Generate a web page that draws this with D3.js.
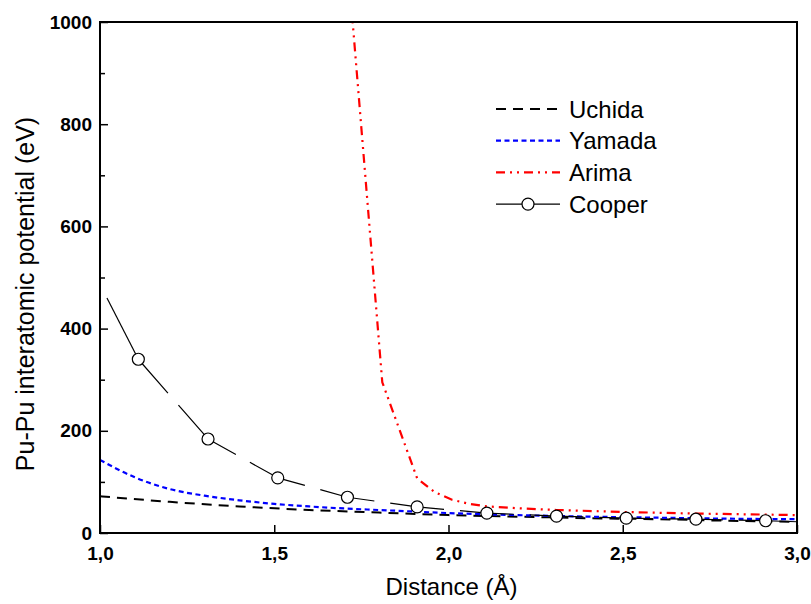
<!DOCTYPE html>
<html>
<head>
<meta charset="utf-8">
<script src="https://cdn.jsdelivr.net/npm/d3@7"></script>
<style>
  body { margin: 0; background: #fff; }
  text { font-family: Arial, "Liberation Sans", sans-serif; }
</style>
</head>
<body>
<div id="chart"></div>
<script>
// series values
const uchidaX = [1.0, 1.2, 1.4, 1.6, 1.8, 2.0, 2.2, 2.4, 2.6, 2.8, 3.0];
const uchidaY = [72, 61, 52, 45, 40, 35, 32, 29, 27, 24, 22];

const yamadaX = [1.0, 1.1, 1.2, 1.3, 1.4, 1.5, 1.6, 1.7, 1.8, 1.9, 2.0, 2.2, 2.4, 2.6, 2.8, 3.0];
const yamadaY = [143, 109, 86, 73, 64, 57, 52, 48, 45, 42, 39, 35, 32, 30, 28, 27];

const arimaX = [1.71, 1.81, 1.91, 1.96, 2.01, 2.06, 2.11, 2.21, 2.31, 2.51, 2.71, 2.91, 3.0];
const arimaY = [1124, 295, 107, 80, 65, 57, 52, 48, 45, 41, 38, 36, 35];

// first and last points are line ends only, markers sit on the rest
const cooperX = [1.02, 1.11, 1.31, 1.51, 1.71, 1.91, 2.11, 2.31, 2.51, 2.71, 2.91, 3.0];
const cooperY = [460, 340, 184, 108, 70, 51, 39, 33, 29, 27, 24, 22];

const xTickValues = [1.0, 1.5, 2.0, 2.5, 3.0];
const yTickValues = [0, 200, 400, 600, 800, 1000];
const yMinorTicks = [100, 300, 500, 700, 900];
const seriesNames = ["Uchida", "Yamada", "Arima", "Cooper"];

const width = 811, height = 604;
const margin = { top: 22, right: 14, bottom: 71, left: 100 };

const svg = d3.select("#chart").append("svg")
    .attr("width", width)
    .attr("height", height);

const x = d3.scaleLinear().domain([1.0, 3.0]).range([margin.left, width - margin.right]);
const y = d3.scaleLinear().domain([0, 1000]).range([height - margin.bottom, margin.top]);

svg.append("defs").append("clipPath").attr("id", "plotClip")
  .append("rect")
    .attr("x", margin.left)
    .attr("y", margin.top)
    .attr("width", width - margin.left - margin.right)
    .attr("height", height - margin.top - margin.bottom);

const plot = svg.append("g").attr("clip-path", "url(#plotClip)");

const zip = (xs, ys) => xs.map((v, i) => [v, ys[i]]);

const smoothLine = d3.line().x(d => x(d[0])).y(d => y(d[1])).curve(d3.curveMonotoneX);
const straightLine = d3.line().x(d => x(d[0])).y(d => y(d[1]));

// Uchida
plot.append("path")
    .attr("d", smoothLine(zip(uchidaX, uchidaY)))
    .attr("fill", "none")
    .attr("stroke", "#000")
    .attr("stroke-width", 2)
    .attr("stroke-dasharray", "10,7");

// Yamada
plot.append("path")
    .attr("d", smoothLine(zip(yamadaX, yamadaY)))
    .attr("fill", "none")
    .attr("stroke", "#0000ff")
    .attr("stroke-width", 2.2)
    .attr("stroke-dasharray", "5,3.5");

// Arima
plot.append("path")
    .attr("d", straightLine(zip(arimaX, arimaY)))
    .attr("fill", "none")
    .attr("stroke", "#ff0000")
    .attr("stroke-width", 2.2)
    .attr("stroke-dasharray", "9,5,2,5,2,5");

// Cooper: thin line, a gap in the middle of each marker-to-marker segment
const cooper = zip(cooperX, cooperY);
const gap = 16;
for (let i = 0; i < cooper.length - 1; i++) {
  const a = cooper[i], b = cooper[i + 1];
  const dx = x(b[0]) - x(a[0]), dy = y(b[1]) - y(a[1]);
  const len = Math.sqrt(dx * dx + dy * dy);
  const seg = plot.append("line")
      .attr("x1", x(a[0])).attr("y1", y(a[1]))
      .attr("x2", x(b[0])).attr("y2", y(b[1]))
      .attr("stroke", "#000")
      .attr("stroke-width", 1.2);
  if (i > 0 && i < cooper.length - 2) {
    seg.attr("stroke-dasharray", `${(len - gap) / 2},${gap},${len}`);
  }
}
plot.selectAll("circle.cooper")
  .data(cooper.slice(1, -1))
  .join("circle")
    .attr("class", "cooper")
    .attr("cx", d => x(d[0]))
    .attr("cy", d => y(d[1]))
    .attr("r", 6)
    .attr("fill", "#fff")
    .attr("stroke", "#000")
    .attr("stroke-width", 1.2);

// axes
const commaFmt = d => d3.format(".1f")(d).replace(".", ",");

const xAxis = svg.append("g")
    .attr("transform", `translate(0,${height - margin.bottom})`)
    .call(d3.axisBottom(x).tickValues(xTickValues).tickSize(-8).tickPadding(14).tickFormat(commaFmt));

const yAxis = svg.append("g")
    .attr("transform", `translate(${margin.left},0)`)
    .call(d3.axisLeft(y).tickValues(yTickValues).tickSize(-8).tickPadding(8).tickFormat(d3.format("d")));

svg.append("g")
    .attr("transform", `translate(${margin.left},0)`)
    .call(d3.axisLeft(y).tickValues(yMinorTicks).tickSize(-5).tickFormat(""))
    .call(g => g.select(".domain").remove())
    .selectAll("line").attr("stroke-width", 1.5);

[xAxis, yAxis].forEach(g => {
  g.select(".domain").remove();
  g.selectAll(".tick line").attr("stroke-width", 1.5);
  g.selectAll(".tick text")
    .attr("font-size", 19)
    .attr("font-weight", "bold")
    .attr("fill", "#000")
    .attr("font-family", "Arial, 'Liberation Sans', sans-serif");
});

// frame
svg.append("rect")
    .attr("x", margin.left)
    .attr("y", margin.top)
    .attr("width", width - margin.left - margin.right)
    .attr("height", height - margin.top - margin.bottom)
    .attr("fill", "none")
    .attr("stroke", "#000")
    .attr("stroke-width", 2);

// axis titles
svg.append("text")
    .attr("x", (margin.left + width - margin.right) / 2 + 3)
    .attr("y", 595)
    .attr("text-anchor", "middle")
    .attr("font-size", 24)
    .text("Distance (Å)");

svg.append("text")
    .attr("transform", "translate(34,294) rotate(-90)")
    .attr("text-anchor", "middle")
    .attr("font-size", 25)
    .text("Pu-Pu interatomic potential (eV)");

// legend
const legend = svg.append("g").attr("transform", "translate(496,109)");
const legendStyles = [
  { stroke: "#000", dash: "10,7", width: 2 },
  { stroke: "#0000ff", dash: "5,3.5", width: 2.2 },
  { stroke: "#ff0000", dash: "9,5,2,5,2,5", width: 2.2 },
  { stroke: "#000", dash: null, width: 1.2 }
];
seriesNames.forEach((name, i) => {
  const row = legend.append("g").attr("transform", `translate(0,${i * 31.7})`);
  const st = legendStyles[i];
  row.append("line")
      .attr("x1", 0).attr("x2", 64)
      .attr("stroke", st.stroke)
      .attr("stroke-width", st.width)
      .attr("stroke-dasharray", st.dash);
  if (name === "Cooper") {
    row.append("circle")
        .attr("cx", 32).attr("r", 6)
        .attr("fill", "#fff").attr("stroke", "#000").attr("stroke-width", 1.2);
  }
  row.append("text")
      .attr("x", 73)
      .attr("dy", "0.36em")
      .attr("font-size", 24)
      .text(name);
});
</script>
</body>
</html>
